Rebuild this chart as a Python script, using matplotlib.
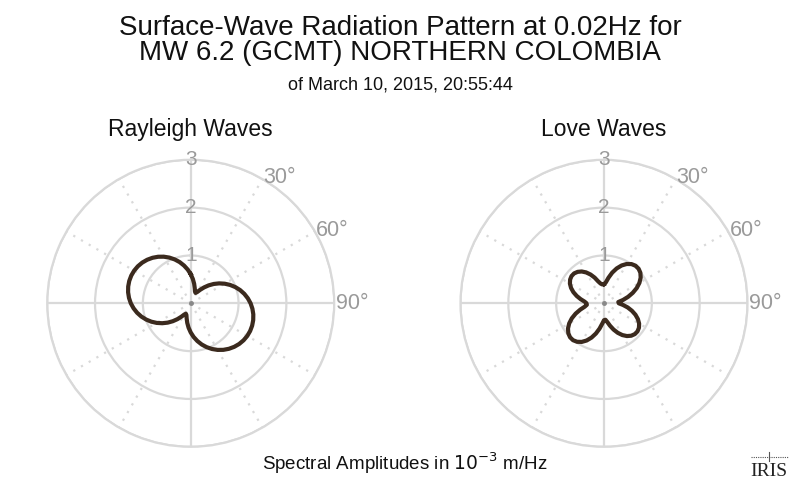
import numpy as np
import matplotlib
matplotlib.use("Agg")
import matplotlib.pyplot as plt
from matplotlib.ticker import FixedLocator
from matplotlib.lines import Line2D

plt.rcParams['font.family'] = ['Liberation Sans', 'DejaVu Sans']

# ---------------- data ----------------
azimuth_deg = np.arange(0, 360, 5)  # sample azimuths, clockwise from north

rayleigh_amp = [
    0.609, 0.511, 0.415, 0.327, 0.262, 0.240, 0.273, 0.344, 0.433, 0.530,
    0.629, 0.726, 0.820, 0.909, 0.992, 1.069, 1.138, 1.199, 1.252, 1.295,
    1.329, 1.353, 1.367, 1.371, 1.365, 1.349, 1.323, 1.287, 1.242, 1.188,
    1.125, 1.054, 0.976, 0.892, 0.801, 0.707,
    0.609, 0.511, 0.415, 0.327, 0.262, 0.240, 0.273, 0.344, 0.433, 0.530,
    0.629, 0.726, 0.820, 0.909, 0.992, 1.069, 1.138, 1.199, 1.252, 1.295,
    1.329, 1.353, 1.367, 1.371, 1.365, 1.349, 1.323, 1.287, 1.242, 1.188,
    1.125, 1.054, 0.976, 0.892, 0.801, 0.707,
]

love_amp = [
    # NE lobe (0-85)
    0.400, 0.440, 0.544, 0.664, 0.776, 0.873, 0.949, 1.001, 1.026, 1.023,
    0.993, 0.936, 0.855, 0.755, 0.640, 0.521, 0.405, 0.300,
    # SE lobe (90-175)
    0.310, 0.400, 0.504, 0.604, 0.700, 0.782, 0.848, 0.892, 0.914, 0.911,
    0.885, 0.836, 0.767, 0.681, 0.584, 0.485, 0.397, 0.345,
    # SW lobe (180-265)
    0.354, 0.429, 0.538, 0.654, 0.763, 0.858, 0.932, 0.982, 1.007, 1.004,
    0.974, 0.919, 0.840, 0.742, 0.631, 0.515, 0.410, 0.360,
    # NW lobe (270-355)
    0.365, 0.408, 0.495, 0.590, 0.681, 0.760, 0.823, 0.865, 0.886, 0.884,
    0.858, 0.812, 0.745, 0.663, 0.571, 0.476, 0.420, 0.395,
]

panel_titles = ["Rayleigh Waves", "Love Waves"]
radial_ticks = [1, 2, 3]
angle_labels = [30, 60, 90]
major_angles = [0, 90, 180, 270]
minor_angles = [30, 60, 120, 150, 210, 240, 300, 330]

title_line1 = "Surface-Wave Radiation Pattern at 0.02Hz for"
title_line2 = "MW 6.2 (GCMT) NORTHERN COLOMBIA"
title_line3 = "of March 10, 2015, 20:55:44"
bottom_label = r"Spectral Amplitudes in $10^{-3}$ m/Hz"

# ---------------- styling ----------------
curve_color = "#3b2a1e"
grid_color = "#d9d9d9"
label_color = "#9a9a9a"

W, H = 800, 493
fig = plt.figure(figsize=(W / 100, H / 100), dpi=100)

R_PX = 143.5
centers = [(190.7, 303.3), (604.0, 303.3)]
series = [rayleigh_amp, love_amp]

for (cx, cy), amp, ttl in zip(centers, series, panel_titles):
    left = (cx - R_PX) / W
    bottom = (H - cy - R_PX) / H
    ax = fig.add_axes([left, bottom, 2 * R_PX / W, 2 * R_PX / H], projection='polar')
    ax.set_theta_zero_location('N')
    ax.set_theta_direction(-1)
    ax.set_ylim(0, 3)

    ax.xaxis.set_major_locator(FixedLocator(np.deg2rad(major_angles)))
    ax.xaxis.set_minor_locator(FixedLocator(np.deg2rad(minor_angles)))
    ax.set_xticklabels([])
    ax.set_yticks(radial_ticks)
    ax.set_yticklabels([])
    ax.tick_params(which='both', length=0)
    ax.grid(True, which='major', color=grid_color, linewidth=1.6, linestyle='-')
    ax.xaxis.grid(True, which='minor', color=grid_color, linewidth=1.6, linestyle=(0, (1, 3)))
    ax.spines['polar'].set_color(grid_color)
    ax.spines['polar'].set_linewidth(1.6)
    ax.set_facecolor('white')

    th = np.deg2rad(np.append(azimuth_deg, azimuth_deg[0]))
    rr = np.append(amp, amp[0])
    ax.plot(th, rr, color=curve_color, linewidth=3.0, solid_joinstyle='round', zorder=5)
    ax.plot([0], [0], marker='o', markersize=2.5, color='#888888', zorder=4)

    for r in radial_ticks:
        ax.text(0, r, str(r), ha='center', va='center', color=label_color,
                fontsize=15, zorder=6)
    for a in angle_labels:
        ax.text(np.deg2rad(a), 3.03, f"{a}°", ha='left', va='center',
                color=label_color, fontsize=15.5, zorder=6)

    fig.text(cx / W, 1 - 136.5 / H, ttl, ha='center', va='baseline',
             fontsize=16.5, color='#111111')

fig.text(0.5, 1 - 35 / H, title_line1, ha='center', va='baseline', fontsize=20, color='#111111')
fig.text(0.5, 1 - 59.5 / H, title_line2, ha='center', va='baseline', fontsize=20, color='#111111')
fig.text(0.5, 1 - 89 / H, title_line3, ha='center', va='baseline', fontsize=13, color='#111111')
fig.text(405 / W, 1 - 470 / H, bottom_label, ha='center', va='baseline', fontsize=13.5, color='#111111')

# IRIS logo (approximation)
fig.text(769 / W, 1 - 476 / H, "IRIS", ha='center', va='baseline', fontsize=14,
         family=['Liberation Serif', 'DejaVu Serif'], color='#222222')
fig.add_artist(Line2D([751 / W, 788 / W], [1 - 457 / H, 1 - 457 / H],
                      color='#555555', linewidth=0.8, linestyle=(0, (1, 1))))
fig.add_artist(Line2D([769 / W, 769 / W], [1 - 461 / H, 1 - 452 / H],
                      color='#555555', linewidth=0.8))

fig.savefig("out.png", dpi=100, facecolor='white')
